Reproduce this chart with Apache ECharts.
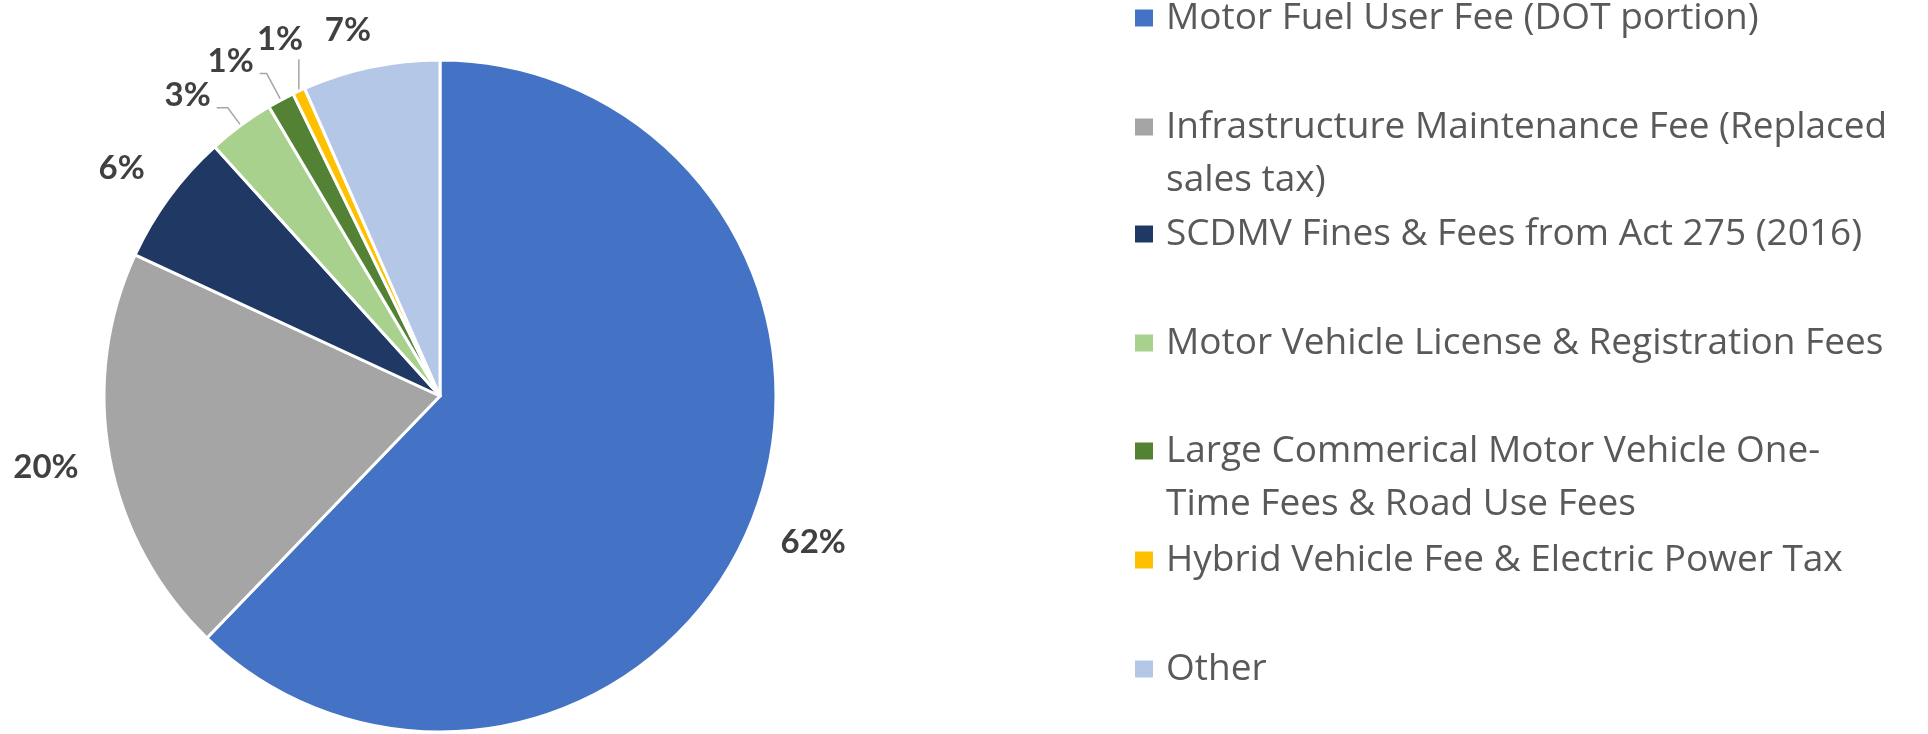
<!DOCTYPE html>
<html><head><meta charset="utf-8">
<script src="https://cdn.jsdelivr.net/npm/echarts@6/dist/echarts.min.js"></script>
<style>html,body{margin:0;padding:0;background:#fff}#c{width:1928px;height:734px}</style>
</head><body><div id="c"></div>
<script>
const categories = [
  "Motor Fuel User Fee (DOT portion)",
  "Infrastructure Maintenance Fee (Replaced sales tax)",
  "SCDMV Fines & Fees from Act 275 (2016)",
  "Motor Vehicle License & Registration Fees",
  "Large Commerical Motor Vehicle One-Time Fees & Road Use Fees",
  "Hybrid Vehicle Fee & Electric Power Tax",
  "Other"
];
const values = [62.2, 19.7, 6.4, 3.2, 1.3, 0.6, 6.6];
const legendLines = [
  ["Motor Fuel User Fee (DOT portion)"],
  ["Infrastructure Maintenance Fee (Replaced", "sales tax)"],
  ["SCDMV Fines & Fees from Act 275 (2016)"],
  ["Motor Vehicle License & Registration Fees"],
  ["Large Commerical Motor Vehicle One-", "Time Fees & Road Use Fees"],
  ["Hybrid Vehicle Fee & Electric Power Tax"],
  ["Other"]
];
const colors = ["#4472C4", "#A5A5A5", "#203864", "#A9D18E", "#548235", "#FFC000", "#B4C7E7"];

// layout / style settings (not data)
const legendCenters = [18, 127, 234, 343, 451, 560, 669];
const LH = 53;
const labelCfg = [
  {len: 56, len2: 0, dist: -23, dy: 0, line: false},
  {len: 50, len2: 0, dist: -18, dy: 0, line: false},
  {len: 48, len2: 0, dist: -14, dy: 0, line: false},
  {len: 22, len2: 11, dist: 6, dy: -12, line: true},
  {len: 30, len2: 7, dist: 6, dy: -12, line: true},
  {len: 35, len2: 0, dist: -19, dy: -20, line: true},
  {len: 38, len2: 0, dist: -8, dy: 0, line: false}
];

const chart = echarts.init(document.getElementById('c'), null, {renderer: 'canvas'});
const legends = categories.map((name, i) => {
  const multi = legendLines[i].length > 1;
  return {
    data: [name],
    orient: 'vertical',
    left: 1133,
    top: legendCenters[i] - (multi ? 1.5 * LH : 0.5 * LH),
    padding: 0,
    itemWidth: 20,
    itemHeight: 19,
    icon: 'rect',
    selectedMode: false,
    formatter: () => (multi ? '\n' : '') + legendLines[i].join('\n'),
    textStyle: {fontFamily: 'Open Sans', fontSize: 37, lineHeight: LH, color: '#595959', padding: [0, 0, 0, 7]}
  };
});

chart.setOption({
  backgroundColor: '#ffffff',
  animation: false,
  legend: legends,
  series: [{
    type: 'pie',
    center: [440, 396],
    radius: 336,
    startAngle: 90,
    clockwise: true,
    avoidLabelOverlap: false,
    percentPrecision: 0,
    itemStyle: {borderColor: '#ffffff', borderWidth: 3},
    label: {show: true, position: 'outside', formatter: '{d}%', fontFamily: 'Lato', fontWeight: 'bold', fontSize: 33, color: '#404040'},
    labelLine: {show: false, lineStyle: {color: '#A6A6A6', width: 1.5}},
    data: categories.map((name, i) => ({
      name: name,
      value: values[i],
      itemStyle: {color: colors[i]},
      label: {distanceToLabelLine: labelCfg[i].dist},
      labelLine: {show: labelCfg[i].line, length: labelCfg[i].len, length2: labelCfg[i].len2}
    })),
    labelLayout: function (p) {
      const cfg = labelCfg[p.dataIndex];
      const a = p.labelLinePoints;
      if (!cfg.dy || !a) return {};
      let pts = a.map(q => [q[0], q[1]]);
      if (p.dataIndex === 5) {
        pts = [[a[0][0], a[0][1]], [a[0][0], a[2][1]], [a[0][0], a[2][1]]];
      }
      return {dy: cfg.dy, labelLinePoints: pts};
    }
  }]
});
</script>
</body></html>
